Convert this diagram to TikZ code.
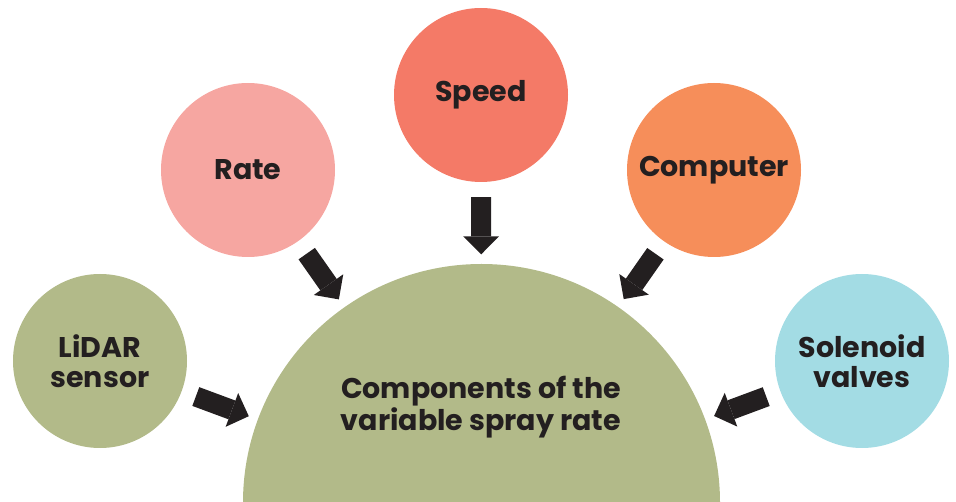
\documentclass[tikz,border=0pt]{standalone}
\usepackage{fontspec}
\setmainfont{Poppins}
\usetikzlibrary{arrows.meta}

\definecolor{sage}{HTML}{B2BA89}
\definecolor{blush}{HTML}{F6A6A1}
\definecolor{salmon}{HTML}{F47A67}
\definecolor{tangerine}{HTML}{F68E5A}
\definecolor{skyblue}{HTML}{A3DCE4}
\definecolor{ink}{HTML}{231F20}

\tikzset{
  part/.style={circle, minimum size=174pt, inner sep=0pt, align=center,
    text=ink, font=\bfseries\fontsize{28.5}{30}\selectfont},
  feed/.style={draw=ink, line width=20pt,
    -{Triangle[width=36pt, length=18pt, line width=0pt]},
    shorten <=15pt, shorten >=9.5pt}
}

\begin{document}
\begin{tikzpicture}[x=1pt, y=-1pt]
    \useasboundingbox (0,0) rectangle (956,502);
    \clip (0,0) rectangle (956,502);

    \node[part, fill=sage, minimum size=477pt] (main) at (481.5,502.5) {};
    \node[part] (title) at (481,407) {Components of the\\variable spray rate};

    \node[part, fill=sage] (lidar) at (100,361) {LiDAR\\sensor};
    \node[part, fill=blush] (rate) at (248,170) {Rate};
    \node[part, fill=salmon] (speed) at (481,95) {Speed};
    \node[part, fill=tangerine] (computer) at (714,170) {Computer};
    \node[part, fill=skyblue] (solenoid) at (862,361) {Solenoid\\valves};

    \draw[feed] (lidar) -- (main);
    \draw[feed] (rate) -- (main);
    \draw[feed] (speed) -- (main);
    \draw[feed] (computer) -- (main);
    \draw[feed] (solenoid) -- (main);
\end{tikzpicture}
\end{document}
